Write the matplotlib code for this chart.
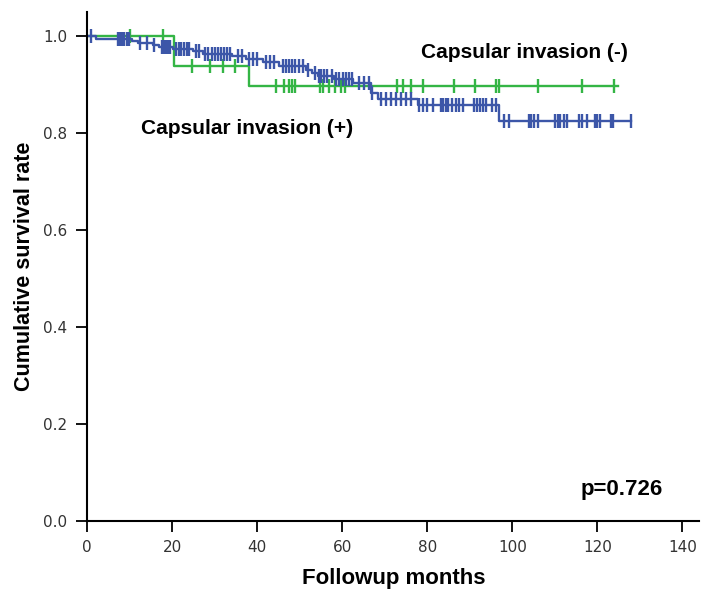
import numpy as np
import matplotlib.pyplot as plt

# Capsular invasion (+) group -- green
green_times = [0, 20.5, 38.1, 124.8]
green_surv = [1.0, 0.9375, 0.8976, 0.8976]
green_censor = [10.1, 17.8, 24.8, 28.9, 31.9, 34.8,
                44.4, 46.3, 47.5, 48.3, 49.0, 54.8, 55.6, 57.0, 58.3, 59.6, 60.7,
                72.8, 74.3, 76.2, 79.0, 86.3, 91.2, 96.1, 96.8, 106.0, 116.4, 123.8]

# Capsular invasion (-) group -- blue
blue_times = [0, 2.1, 10.5, 12.0, 15.5, 17.0, 20.3, 25.0, 27.2, 34.2, 37.3, 41.3,
              45.2, 51.4, 53.0, 54.3, 58.0, 62.6, 66.7, 68.3, 77.8, 96.8, 128.0]
blue_surv = [1.0, 0.994, 0.989, 0.985, 0.981, 0.978, 0.973, 0.969, 0.964, 0.959,
             0.953, 0.946, 0.939, 0.930, 0.923, 0.917, 0.911, 0.903, 0.882, 0.870,
             0.857, 0.824, 0.824]
blue_censor = [0.9, 7.3, 7.8, 8.3, 8.8, 9.3, 9.8, 12.5, 14.0, 15.8, 17.6, 18.1, 18.6,
               19.1, 19.6, 21.0, 21.6, 22.2, 22.8, 23.4, 24.0, 25.6, 26.3, 27.8, 28.5,
               29.3, 30.0, 30.8, 31.5, 32.3, 33.0, 33.7, 35.5, 36.5, 38.0, 39.0, 40.0,
               42.0, 43.0, 44.0, 46.0, 46.8, 47.5, 48.3, 49.0, 49.8, 50.7, 52.0, 53.6,
               54.6, 55.1, 55.7, 56.5, 57.7, 58.5, 59.3, 60.1, 60.8, 61.6, 62.2, 64.0,
               65.2, 66.3, 67.1, 69.1, 70.2, 71.4, 72.6, 73.8, 75.0, 76.1, 78.1, 79.0,
               80.0, 81.3, 83.2, 83.8, 84.4, 84.9, 85.9, 86.7, 87.5, 88.4, 91.0, 91.7,
               92.4, 93.1, 93.8, 95.3, 96.1, 98.0, 99.2, 103.9, 104.5, 105.1, 106.0,
               110.0, 110.7, 111.3, 112.1, 112.9, 115.6, 116.4, 117.5, 119.4, 120.0,
               120.5, 123.1, 123.7, 127.8]

x_ticks = [0, 20, 40, 60, 80, 100, 120, 140]
y_ticks = [0.0, 0.2, 0.4, 0.6, 0.8, 1.0]

green = "#34b545"
blue = "#3c56a8"


def surv_at(times, surv, t):
    # value of the step curve at time t (right-continuous)
    idx = np.searchsorted(times, t, side="right") - 1
    return np.asarray(surv)[idx]


fig = plt.figure(figsize=(7.04, 5.92), dpi=100)
ax = fig.add_axes([0.1236, 0.1199, 0.870, 0.86])

for times, surv, cens, col in [(green_times, green_surv, green_censor, green),
                               (blue_times, blue_surv, blue_censor, blue)]:
    ax.step(times, surv, where="post", color=col, linewidth=1.7)
    ax.plot(cens, surv_at(times, surv, cens), linestyle="none", marker="|",
            markersize=9.5, markeredgewidth=1.7, color=col)

ax.set_xlim(0, 144)
ax.set_ylim(0, 1.05)
ax.set_xticks(x_ticks)
ax.set_yticks(y_ticks)
ax.set_xticklabels([str(v) for v in x_ticks])
ax.set_yticklabels([f"{v:.1f}" for v in y_ticks])

ax.spines["top"].set_visible(False)
ax.spines["right"].set_visible(False)
ax.spines["left"].set_linewidth(1.5)
ax.spines["bottom"].set_linewidth(1.5)
ax.tick_params(axis="both", direction="out", length=8, width=1.3,
               labelsize=11, labelcolor="#333333", pad=6)

bold = dict(family="Liberation Sans", fontweight="bold")
ax.set_xlabel("Followup months", fontsize=16, labelpad=9, **bold)
ax.set_ylabel("Cumulative survival rate", fontsize=15.5, labelpad=6, **bold)

ax.text(78.5, 0.967, "Capsular invasion (-)", fontsize=15, va="center", **bold)
ax.text(12.7, 0.810, "Capsular invasion (+)", fontsize=15, va="center", **bold)
ax.text(116, 0.064, "p=0.726", fontsize=16, va="center", **bold)

fig.savefig("out.png", dpi=100)
